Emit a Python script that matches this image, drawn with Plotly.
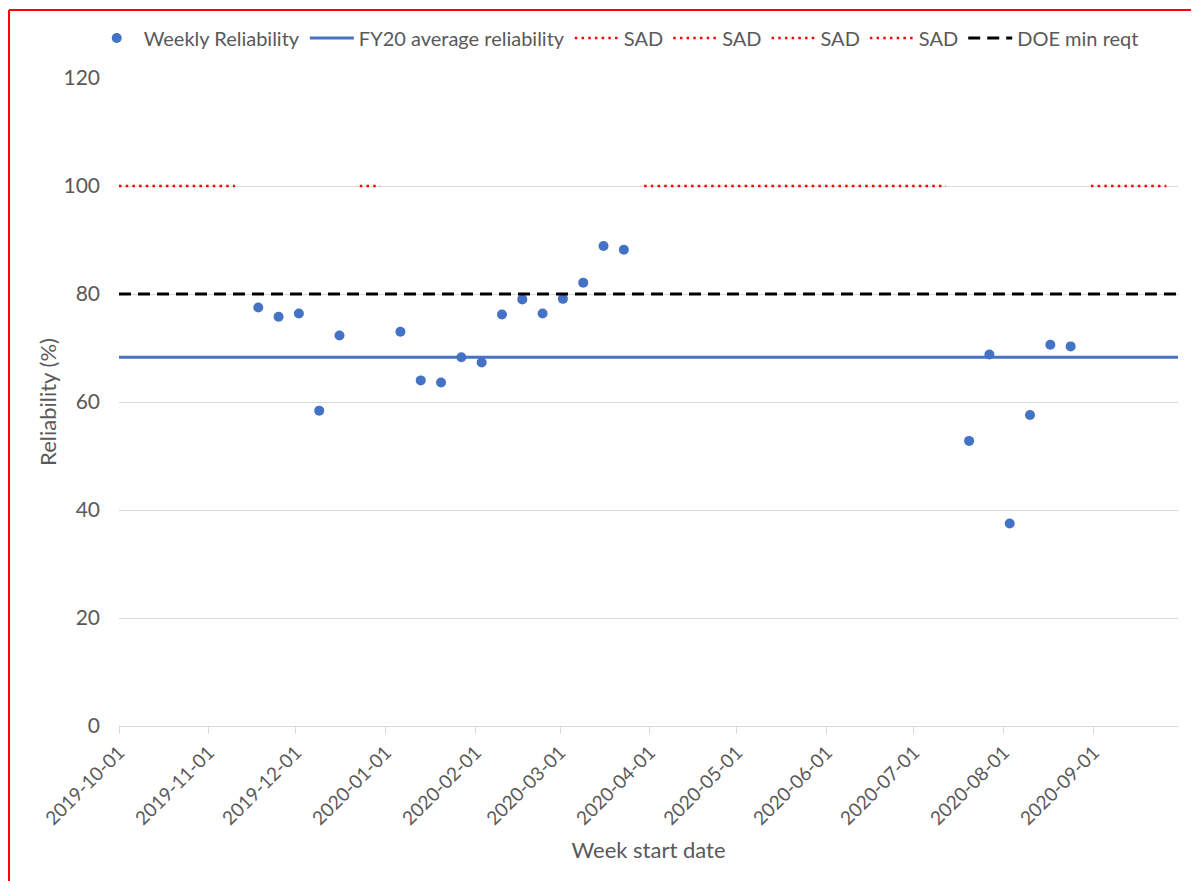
import plotly.graph_objects as go

# ---- data ----
week_dates = ["2019-11-18", "2019-11-25", "2019-12-02", "2019-12-09", "2019-12-16",
              "2020-01-06", "2020-01-13", "2020-01-20", "2020-01-27", "2020-02-03",
              "2020-02-10", "2020-02-17", "2020-02-24", "2020-03-02", "2020-03-09",
              "2020-03-16", "2020-03-23",
              "2020-07-20", "2020-07-27", "2020-08-03", "2020-08-10", "2020-08-17", "2020-08-24"]
weekly_reliability = [77.5, 75.8, 76.4, 58.4, 72.3,
                      73.0, 64.0, 63.6, 68.3, 67.3,
                      76.2, 79.0, 76.4, 79.1, 82.1,
                      88.9, 88.2,
                      52.8, 68.8, 37.5, 57.6, 70.6, 70.3]

fy_span = ["2019-10-01", "2020-09-30"]
fy20_average = [68.3, 68.3]
doe_min = [80, 80]

sad_periods = [
    ["2019-10-01", "2019-11-10"],
    ["2019-12-23", "2019-12-30"],
    ["2020-03-30", "2020-07-12"],
    ["2020-08-31", "2020-09-26"],
]
sad_level = [100, 100]

tick_dates = ["2019-10-01", "2019-11-01", "2019-12-01", "2020-01-01", "2020-02-01",
              "2020-03-01", "2020-04-01", "2020-05-01", "2020-06-01", "2020-07-01",
              "2020-08-01", "2020-09-01"]
y_ticks = [0, 20, 40, 60, 80, 100, 120]

FONT = "Lato, Open Sans, sans-serif"
GREY = "#595959"

fig = go.Figure()
fig.add_trace(go.Scatter(x=week_dates, y=weekly_reliability, mode="markers",
                         name="Weekly Reliability",
                         marker=dict(color="#4472C4", size=10)))
fig.add_trace(go.Scatter(x=fy_span, y=fy20_average, mode="lines",
                         name="FY20 average reliability",
                         line=dict(color="#4472C4", width=3)))
for period in sad_periods:
    fig.add_trace(go.Scatter(x=period, y=sad_level, mode="lines", name="SAD",
                             line=dict(color="#FF0000", width=2.5, dash="2.5px,4.2px")))
fig.add_trace(go.Scatter(x=fy_span, y=doe_min, mode="lines", name="DOE min reqt",
                         line=dict(color="#000000", width=3, dash="12px,7px")))

# red frame around the picture (top and left edges visible)
frame = dict(type="line", xref="paper", yref="paper", line=dict(color="#FF0000", width=2))
fig.add_shape(**frame, x0=-0.1039, x1=1.1, y0=1.1048, y1=1.1048)
fig.add_shape(**frame, x0=-0.1039, x1=-0.1039, y0=1.1048, y1=-0.25)

fig.update_layout(
    width=1191, height=873,
    margin=dict(l=111, r=21, t=69, b=155),
    paper_bgcolor="white", plot_bgcolor="white",
    font=dict(family=FONT, color=GREY, size=19),
    showlegend=True,
    legend=dict(orientation="h", x=0.470, xanchor="center", y=1.06, yanchor="middle",
                font=dict(size=20, color=GREY), itemwidth=44, traceorder="normal"),
    xaxis=dict(
        type="date", range=["2019-10-01", "2020-09-30"],
        tickvals=tick_dates, ticktext=tick_dates, tickangle=-45,
        showgrid=False, showline=True, linecolor="#D9D9D9", linewidth=1,
        ticks="outside", ticklen=7, tickcolor="#D9D9D9",
        tickfont=dict(size=19, color=GREY),
        title=dict(text="Week start date", font=dict(size=22, color=GREY), standoff=14),
        zeroline=False,
    ),
    yaxis=dict(
        range=[0, 120], tickvals=y_ticks,
        showgrid=True, gridcolor="#D9D9D9", gridwidth=1,
        zeroline=False, showline=False,
        tickfont=dict(size=21, color=GREY), ticklabelstandoff=18,
        title=dict(text="Reliability (%)", font=dict(size=22, color=GREY), standoff=0),
    ),
)

fig.write_html("out.html")
